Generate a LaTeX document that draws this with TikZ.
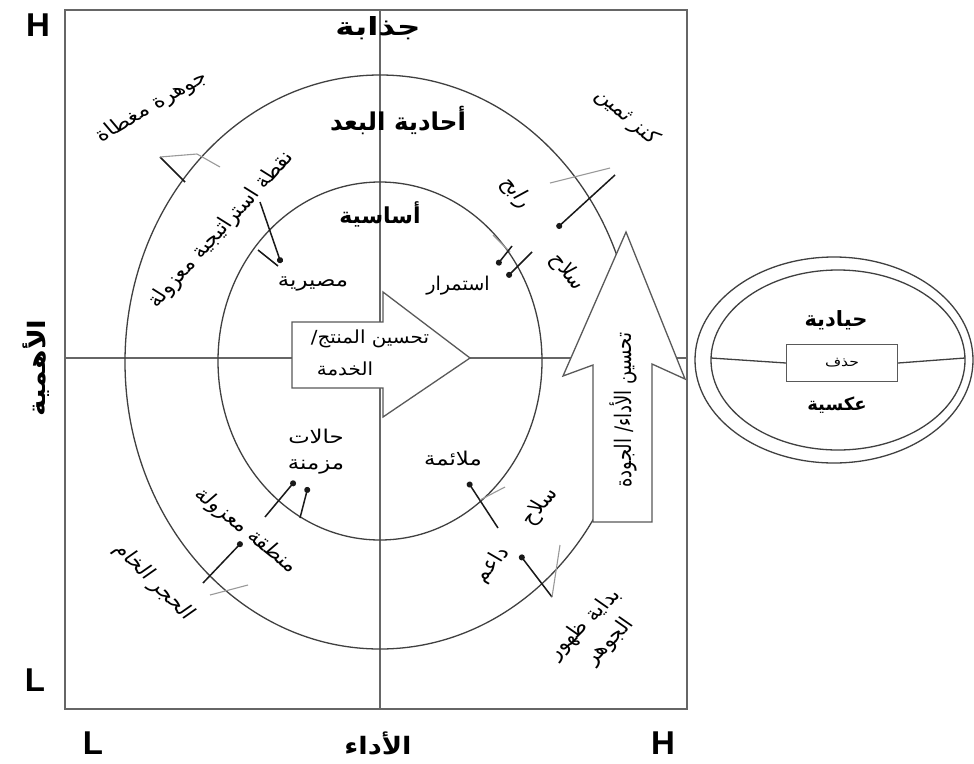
\documentclass[tikz,border=0pt]{standalone}
\usepackage{fontspec}
\setmainfont{Liberation Sans}
\newfontfamily\arabicfont[Script=Arabic]{DejaVu Sans}
\TeXXeTstate=1
\usetikzlibrary{arrows.meta}
\newcommand{\artext}[1]{{\arabicfont\beginR #1\endR}}

\begin{document}
\begin{tikzpicture}[x=1pt,y=-1pt,
  frame/.style={draw=black!60, line width=1.5pt},
  ring/.style={draw=black!75, line width=1.3pt},
  blockarrow/.style={draw=black!65, fill=white, line width=1.3pt, line join=miter},
  pin/.style={draw=black!90, line width=1.5pt, -{Circle[length=6pt]}},
  stroke/.style={draw=black!90, line width=1.5pt},
  faint/.style={draw=black!40, line width=1.1pt},
  bigtitle/.style={font=\fontsize{22}{24}\selectfont\bfseries, inner sep=0pt},
  tag/.style={font=\fontsize{19}{23}\selectfont, inner sep=0pt, align=center, xscale=1.2},
  corner/.style={font=\fontsize{33}{34}\selectfont\bfseries, inner sep=0pt},
]
\fill[white] (0,0) rectangle (974,763);
\useasboundingbox (0,0) rectangle (974,763);

% quadrant frame and axes
\draw[frame] (65,10) rectangle (687,709);
\draw[frame] (380,10) -- (380,709);
\draw[frame] (65,358) -- (687,358);

% the two rings
\draw[ring] (380,362) ellipse (255 and 287);
\draw[ring] (380,361) ellipse (162 and 179);

% pointers and tick marks on the rings
\draw[stroke] (160,157) -- (185,182);
\draw[faint] (160,157) -- (197,154) -- (220,167);
\draw[pin] (260,202) -- (281,263);
\draw[stroke] (258,250) -- (278,266);
\draw[faint] (550,183) -- (610,168);
\draw[pin] (615,175) -- (557,228);
\draw[faint] (493,235) -- (510,252);
\draw[pin] (512,246) -- (497,265);
\draw[pin] (532,252) -- (507,277);
\draw[pin] (498,528) -- (468,482);
\draw[faint] (480,500) -- (505,487);
\draw[pin] (552,597) -- (520,555);
\draw[faint] (552,597) -- (560,545);
\draw[pin] (203,583) -- (242,542);
\draw[faint] (210,595) -- (248,585);
\draw[pin] (265,517) -- (295,481);
\draw[pin] (300,518) -- (308,487);

% block arrows
\draw[blockarrow] (292,322) -- (383,322) -- (383,292) -- (470,358)
  -- (383,417) -- (383,388) -- (292,388) -- cycle;
\draw[blockarrow] (593,522) -- (593,365) -- (563,376) -- (626,232)
  -- (685,379) -- (652,364) -- (652,522) -- cycle;

% corner letters
\node[corner] (hi1) at (38,25) {H};
\node[corner] (lo1) at (35,680) {L};
\node[corner] (lo2) at (93,743) {L};
\node[corner] (hi2) at (663,743) {H};

% axis and zone titles
\node[bigtitle, font=\fontsize{25}{27}\selectfont\bfseries, xscale=1.3] (attr) at (378,28) {\artext{جذابة}};
\node[bigtitle, font=\fontsize{24.5}{26}\selectfont\bfseries] (onedim) at (398,120) {\artext{أحادية البعد}};
\node[bigtitle] (basic) at (380,214) {\artext{أساسية}};
\node[bigtitle, font=\fontsize{24}{26}\selectfont\bfseries, rotate=90, xscale=1.17] (imp) at (36,368) {\artext{الأهمية}};
\node[bigtitle, font=\fontsize{24}{26}\selectfont\bfseries, xscale=1.14] (perf) at (378,743) {\artext{الأداء}};

% labels around the rings
\node[tag, rotate=35] (gem) at (152,107) {\artext{جوهرة مغطاة}};
\node[tag, rotate=-46] (treasure) at (627,117) {\artext{كنز ثمين}};
\node[tag, rotate=53] (strat) at (221,230) {\artext{نقطة استراتيجية معزولة}};
\node[tag] (fate) at (313,284) {\artext{مصيرية}};
\node[tag, xscale=0.84] (cont) at (458,286) {\artext{استمرار}};
\node[tag, rotate=-57] (win) at (516,193) {\artext{رابح}};
\node[tag, rotate=-57] (weapon1) at (567,272) {\artext{سلاح}};
\node[tag, font=\fontsize{18}{21}\selectfont, xscale=0.92] (improve1) at (370,339) {\artext{تحسين المنتج/}};
\node[tag, font=\fontsize{18}{21}\selectfont, xscale=0.92] (improve2) at (345,369) {\artext{الخدمة}};
\node[tag, font=\fontsize{19}{26}\selectfont] (chronic) at (316,452) {\artext{حالات}\\\artext{مزمنة}};
\node[tag] (fit) at (453,459) {\artext{ملائمة}};
\node[tag, rotate=-44] (zone) at (246,531) {\artext{منطقة معزولة}};
\node[tag, rotate=-50] (raw) at (154,582) {\artext{الحجر الخام}};
\node[tag, rotate=55] (weapon2) at (540,507) {\artext{سلاح}};
\node[tag, rotate=55] (support) at (492,565) {\artext{داعم}};
\node[tag, font=\fontsize{19}{27}\selectfont, rotate=50] (emerge) at (597,633) {\artext{بداية ظهور}\\\artext{الجوهر}};
\node[tag, rotate=90, xscale=0.95] (uptext) at (623,410) {\artext{تحسين الأداء/ الجودة}};

% indifferent / reverse ellipse
\draw[ring] (834,360) ellipse (139 and 103);
\draw[ring] (838,360) ellipse (127 and 90);
\node[draw=black!65, line width=1.2pt, fill=white, minimum width=111pt,
  minimum height=37pt, inner sep=0pt] (drop) at (842,363) {};
\draw[ring] (711,358) -- (drop.west);
\draw[ring] (drop.east) -- (965,358);
\node[tag, font=\fontsize{13}{15}\selectfont, xscale=1] (droptxt) at (drop) {\artext{حذف}};
\node[bigtitle, font=\fontsize{21}{23}\selectfont\bfseries] (indiff) at (836,320) {\artext{حيادية}};
\node[bigtitle, font=\fontsize{18}{20}\selectfont\bfseries] (rev) at (837,405) {\artext{عكسية}};
\end{tikzpicture}
\end{document}
